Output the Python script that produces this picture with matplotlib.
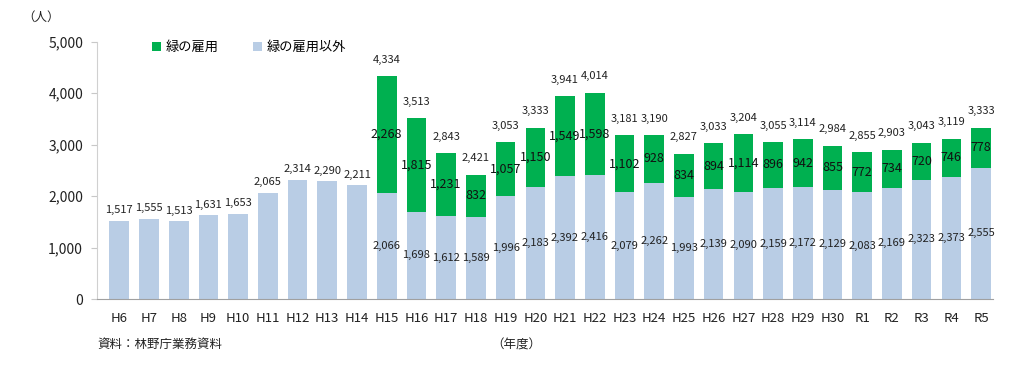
import matplotlib
matplotlib.use("Agg")
import matplotlib.pyplot as plt
import numpy as np

plt.rcParams['font.family'] = ['Noto Sans CJK JP', 'DejaVu Sans']

categories = ["H6", "H7", "H8", "H9", "H10", "H11", "H12", "H13", "H14", "H15", "H16",
              "H17", "H18", "H19", "H20", "H21", "H22", "H23", "H24", "H25", "H26", "H27",
              "H28", "H29", "H30", "R1", "R2", "R3", "R4", "R5"]
other = [1517, 1555, 1513, 1631, 1653, 2065, 2314, 2290, 2211, 2066, 1698,
         1612, 1589, 1996, 2183, 2392, 2416, 2079, 2262, 1993, 2139, 2090,
         2159, 2172, 2129, 2083, 2169, 2323, 2373, 2555]
green = [0, 0, 0, 0, 0, 0, 0, 0, 0, 2268, 1815,
         1231, 832, 1057, 1150, 1549, 1598, 1102, 928, 834, 894, 1114,
         896, 942, 855, 772, 734, 720, 746, 778]
totals = [1517, 1555, 1513, 1631, 1653, 2065, 2314, 2290, 2211, 4334, 3513,
          2843, 2421, 3053, 3333, 3941, 4014, 3181, 3190, 2827, 3033, 3204,
          3055, 3114, 2984, 2855, 2903, 3043, 3119, 3333]

C_GREEN = "#00B050"
C_BLUE = "#B9CDE5"

fig = plt.figure(figsize=(10.24, 3.91), dpi=100)
ax = fig.add_axes([0.0947, 0.235, 0.875, 0.658])

x = np.arange(len(categories))
w = 0.66
ax.bar(x, other, w, color=C_BLUE, label="緑の雇用以外", zorder=2)
ax.bar(x, green, w, bottom=other, color=C_GREEN, label="緑の雇用", zorder=2)

ax.set_ylim(0, 5000)
ax.set_xlim(-0.75, len(categories) - 1 + 0.4)
ax.set_yticks([0, 1000, 2000, 3000, 4000, 5000])
ax.set_yticklabels(["0", "1,000", "2,000", "3,000", "4,000", "5,000"])
ax.set_xticks(x)
ax.set_xticklabels(categories)
ax.tick_params(axis='x', length=0, pad=9, labelsize=9.5, labelcolor="#222222")
ax.tick_params(axis='y', length=4, color="#C8C8C8", pad=6, labelsize=10, labelcolor="#222222")

for s in ["top", "right"]:
    ax.spines[s].set_visible(False)
ax.spines["left"].set_color("#D0D0D0")
ax.spines["bottom"].set_color("#A0A0A0")

lab_fs = 8
for i in range(len(categories)):
    off = 220 if green[i] > 0 else 110
    ax.text(x[i], totals[i] + off, f"{totals[i]:,}", ha="center", va="bottom",
            fontsize=lab_fs, color="#222222")
    if green[i] > 0:
        ax.text(x[i], other[i] + green[i] / 2, f"{green[i]:,}", ha="center", va="center",
                fontsize=lab_fs + 1, color="#111111")
        ax.text(x[i], other[i] / 2, f"{other[i]:,}", ha="center", va="center",
                fontsize=lab_fs, color="#222222")

handles, labels = ax.get_legend_handles_labels()
leg = ax.legend(handles[::-1], labels[::-1], ncol=2, loc="upper left",
                bbox_to_anchor=(0.048, 1.05), frameon=False, fontsize=9.5,
                handlelength=0.7, handleheight=0.7, handletextpad=0.35,
                columnspacing=2.6)

fig.text(0.022, 0.955, "（人）", fontsize=9, color="#222222", va="center")
fig.text(0.095, 0.118, "資料：林野庁業務資料", fontsize=9, color="#222222", va="center")
fig.text(0.48, 0.118, "（年度）", fontsize=9, color="#222222", va="center")

fig.savefig("out.png", dpi=100)
